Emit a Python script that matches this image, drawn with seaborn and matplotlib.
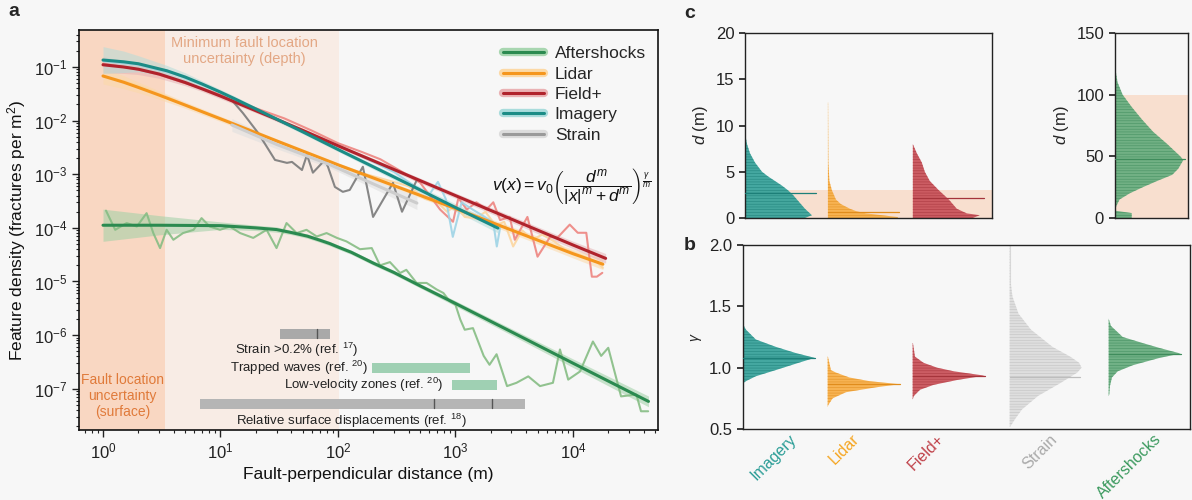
import numpy as np
import matplotlib
matplotlib.use('Agg')
import matplotlib.pyplot as plt
from matplotlib.ticker import LogLocator, NullFormatter, FixedLocator
from matplotlib.lines import Line2D
from matplotlib.patches import Rectangle
from matplotlib.transforms import blended_transform_factory
import seaborn as sns

sns.set_theme(style='ticks')
plt.rcParams['font.family'] = ['Liberation Sans', 'DejaVu Sans']
plt.rcParams['mathtext.fontset'] = 'custom'
plt.rcParams['mathtext.rm'] = 'Liberation Sans'
plt.rcParams['mathtext.it'] = 'Liberation Sans:italic'
plt.rcParams['hatch.linewidth'] = 0.35

# ---------------- panel a: fitted curves ----------------
aft_fit_x = [1, 3, 10, 20, 30, 40, 55, 70, 85, 100, 130, 160, 200, 300, 500, 1000, 3000, 1e4, 4.4e4]
aft_fit_y = [1.12e-4, 1.12e-4, 1.1e-4, 1.0e-4, 9.3e-5, 8.2e-5, 7.0e-5, 5.9e-5, 5.1e-5, 4.4e-5,
             3.5e-5, 2.8e-5, 2.2e-5, 1.47e-5, 8.3e-6, 3.9e-6, 1.15e-6, 3.0e-7, 5.8e-8]
aft_band = [0.3, 0.18, 0.07, 0.05, 0.05, 0.04, 0.04, 0.04, 0.04, 0.04, 0.04, 0.04, 0.04, 0.04,
            0.04, 0.05, 0.06, 0.08, 0.1]

lid_fit_x = [1, 1.5, 2, 3, 5, 10, 30, 100, 1000, 1e4, 1.8e4]
lid_fit_y = [0.068, 0.052, 0.0416, 0.030, 0.0195, 0.0108, 4.2e-3, 1.5e-3, 2.3e-4, 3.3e-5, 2.1e-5]
lid_band = [0.15, 0.12, 0.1, 0.08, 0.06, 0.05, 0.04, 0.04, 0.05, 0.08, 0.1]

fld_fit_x = [1, 1.5, 2, 3, 5, 7, 10, 20, 30, 50, 100, 1000, 1e4, 1.9e4]
fld_fit_y = [0.11, 0.1, 0.091, 0.074, 0.0515, 0.039, 0.0287, 0.0153, 0.0106, 6.6e-3, 3.4e-3,
             4.0e-4, 4.8e-5, 2.7e-5]
fld_band = [0.15, 0.12, 0.1, 0.08, 0.06, 0.05, 0.05, 0.04, 0.04, 0.04, 0.04, 0.05, 0.07, 0.09]

img_fit_x = [1, 1.5, 2, 3.5, 5, 7, 10, 13, 20, 30, 50, 100, 300, 1000, 2300]
img_fit_y = [0.135, 0.125, 0.115, 0.085, 0.065, 0.048, 0.034, 0.026, 0.0165, 0.0107, 6.2e-3,
             2.9e-3, 8.9e-4, 2.4e-4, 9.9e-5]
img_band = [0.25, 0.2, 0.15, 0.1, 0.08, 0.06, 0.05, 0.05, 0.04, 0.04, 0.04, 0.04, 0.05, 0.07, 0.09]

str_fit_x = [12.5, 30, 86, 200, 470]
str_fit_y = [8.3e-3, 3.6e-3, 1.5e-3, 6.6e-4, 2.9e-4]
str_band = [0.12, 0.08, 0.06, 0.08, 0.12]

# ---------------- panel a: binned densities ----------------
aft_raw_x = [1.06, 1.27, 1.59, 1.94, 2.35, 2.68, 3.06, 3.48, 3.97, 4.8, 5.9, 6.9, 8.1, 9.9, 12,
             14.7, 19, 24.7, 30, 36.5, 44.5, 54, 66, 80, 98, 118, 154, 194, 228, 277, 338, 382,
             467, 568, 692, 790, 893, 1000, 1100, 1200, 1410, 1740, 1950, 2240, 2750, 3310, 4170,
             5250, 6760, 7760, 9120, 1.15e4, 1.48e4, 1.74e4, 2.0e4, 2.57e4, 3.47e4, 3.8e4, 4.37e4]
aft_raw_y = [2.1e-4, 9.2e-5, 1.23e-4, 1.06e-4, 1.88e-4, 8e-5, 4.2e-5, 9.2e-5, 6.0e-5, 8e-5, 9.2e-5,
             1.52e-4, 1.06e-4, 9.2e-5, 1.06e-4, 8e-5, 6.5e-5, 9.2e-5, 4.2e-5, 1.23e-4, 8e-5, 9.2e-5,
             6.9e-5, 8e-5, 6.5e-5, 5.6e-5, 4.0e-5, 4.2e-5, 2.0e-5, 2.3e-5, 1.44e-5, 1.65e-5, 9.4e-6,
             9.4e-6, 7.1e-6, 6.1e-6, 4.3e-6, 3.7e-6, 1.95e-6, 1.26e-6, 1.35e-6, 4.1e-7, 2.8e-7,
             4.4e-7, 1.12e-7, 1.29e-7, 1.7e-7, 1.12e-7, 1.29e-7, 5.4e-7, 1.48e-7, 2.1e-7, 7.6e-7,
             4.1e-7, 5.8e-7, 7.2e-8, 7.8e-8, 3.8e-8, 3.8e-8]

lid_raw_x = [1, 1.5, 2, 3, 5, 8, 12, 20, 35, 60, 100, 160, 250, 400, 550, 700, 850, 1000, 1200,
             1500, 1800, 2200, 2600, 3100, 3700, 4500, 5500, 7000, 8500, 1e4, 1.3e4, 1.6e4, 1.8e4]
lid_raw_y = [0.068, 0.055, 0.045, 0.032, 0.02, 0.013, 0.0095, 6e-3, 3.6e-3, 2.3e-3, 1.5e-3,
             1.05e-3, 8e-4, 6e-4, 3.5e-4, 3.0e-4, 2.0e-4, 2.6e-4, 1.6e-4, 1.5e-4, 2.0e-4, 1.1e-4,
             1.3e-4, 4.5e-5, 9e-5, 6e-5, 7.5e-5, 5.5e-5, 4e-5, 3.5e-5, 2.8e-5, 2.3e-5, 1.8e-5]

fld_raw_x = [1, 1.5, 2, 3, 5, 8, 12, 20, 35, 60, 100, 160, 230, 330, 500, 740, 954, 1060, 1250,
             1510, 1840, 2100, 2400, 2900, 3200, 4100, 5000, 6400, 7400, 9400, 1.1e4, 1.3e4,
             1.45e4, 1.6e4, 1.78e4]
fld_raw_y = [0.115, 0.1, 0.09, 0.072, 0.05, 0.036, 0.026, 0.017, 0.011, 6.5e-3, 3.8e-3, 2.6e-3,
             1.9e-3, 1.2e-3, 7e-4, 2.2e-4, 1.3e-4, 3.6e-4, 2.2e-4, 3e-4, 2.2e-4, 3e-4, 1.4e-4,
             1.6e-4, 6e-5, 1.6e-4, 2.9e-5, 6.8e-5, 6.6e-5, 1.15e-4, 8.1e-5, 8.1e-5, 1.23e-5,
             1.23e-5, 1.45e-5]

img_raw_x = [1, 2, 4, 8, 15, 30, 60, 100, 150, 200, 300, 450, 600, 710, 830, 950, 1130, 1400,
             1700, 2100, 2250, 2400]
img_raw_y = [0.13, 0.11, 0.075, 0.042, 0.022, 0.0105, 5.2e-3, 3.4e-3, 2.3e-3, 1.7e-3, 1.1e-3,
             6e-4, 4.2e-4, 7.2e-4, 3.4e-4, 6.8e-5, 3.0e-4, 2.2e-4, 1.7e-4, 1.26e-4, 4.5e-5, 1.0e-4]

str_raw_x = [12.5, 15.5, 20.9, 24.9, 29.1, 36.8, 40.6, 49.4, 54.5, 61.2, 77.5, 82.2, 94.2, 110,
             126, 163, 199, 294, 351, 470]
str_raw_y = [2.4e-2, 1.39e-2, 5.9e-3, 3.2e-3, 1.85e-3, 1.63e-3, 1.7e-3, 1.2e-3, 2.3e-3, 1.07e-3,
             1.85e-3, 1.38e-3, 5.8e-4, 4.7e-4, 5.1e-4, 1.38e-3, 1.6e-4, 6.9e-4, 2.0e-4, 7.9e-4]

# reference ranges (m) drawn under the curves
strain_range = [32, 86]
strain_mark = [66]
trapped_range = [195, 1330]
lvz_range = [930, 2250]
rsd_range = [6.7, 3900]
rsd_marks = [660, 2040]

# ---------------- panel b: gamma posteriors ----------------
gamma_names = ['Imagery', 'Lidar', 'Field+', 'Strain', 'Aftershocks']
gamma_median = [1.08, 0.865, 0.93, 0.925, 1.11]
img_g = [1.36, 1.31, 1.23, 1.17, 1.12, 1.08, 1.04, 0.98, 0.93, 0.89, 0.87]
img_gw = [0, 10, 40, 100, 160, 218, 170, 100, 40, 10, 0]
lid_g = [1.09, 0.98, 0.96, 0.92, 0.89, 0.865, 0.84, 0.80, 0.75, 0.70, 0.68]
lid_gw = [1, 10, 25, 65, 125, 215, 145, 55, 15, 3, 0]
fld_g = [1.20, 1.09, 1.04, 1.00, 0.97, 0.935, 0.90, 0.86, 0.82, 0.77, 0.74]
fld_gw = [1, 7, 32, 72, 122, 212, 132, 62, 22, 4, 0]
str_g = [2.0, 1.72, 1.58, 1.44, 1.31, 1.17, 1.09, 1.04, 1.0, 0.96, 0.87, 0.77, 0.66, 0.58, 0.52]
str_gw = [1, 2, 8, 25, 60, 120, 170, 195, 202, 190, 140, 80, 35, 15, 2]
aft_g = [1.40, 1.34, 1.25, 1.20, 1.16, 1.115, 1.08, 1.02, 0.97, 0.92, 0.85, 0.78, 0.77]
aft_gw = [0, 7, 42, 102, 152, 214, 152, 72, 27, 10, 4, 2, 0]

# ---------------- panel c: d posteriors ----------------
d_median = [2.7, 0.65, 2.2]
img_d = [0, 0.3, 0.6, 1, 1.5, 2, 2.5, 3, 3.5, 4, 4.5, 5, 6, 7, 8, 9.2]
img_dw = [60, 67, 64, 60, 56, 52, 48, 43, 37, 30, 23, 17, 10, 5, 2, 0]
lid_d = [0, 0.1, 0.2, 0.35, 0.5, 0.75, 1, 1.5, 2, 3, 4, 6, 8, 10, 12.5]
lid_dw = [70, 70, 62, 50, 38, 28, 22, 13, 8, 4, 1.5, 0.5, 0.4, 0.3, 0.2]
fld_d = [0, 0.3, 0.5, 1, 1.5, 2, 3, 4, 5, 6, 7, 8]
fld_dw = [60, 67, 54, 44, 40, 36, 26, 17, 12, 9, 4, 0]
aft_d_median = 48
aft_d = [0, 2, 4, 6, 10, 15, 20, 25, 30, 35, 40, 47, 50, 60, 70, 80, 90, 100, 110, 120, 130]
aft_dw = [17, 17, 17, 0, 2, 5, 15, 28, 42, 57, 63, 68, 65, 52, 38, 27, 17, 8, 3, 1, 0]

BG = '#f7f7f7'
C_AFT, C_LID, C_FLD, C_IMG = '#2b8a50', '#f5961d', '#b0232c', '#1b8c86'
R_AFT, R_LID, R_FLD, R_IMG, R_STR = '#86bd84', '#fcd6a0', '#ee8580', '#9fd4e6', '#7a7a7a'
V_COL = ['#3aa39b', '#f7b04a', '#c9545b', '#dddddd', '#6aae80']
V_DARK = ['#1d7f78', '#e08c1c', '#a5343b', '#bdbdbd', '#3f8c5c']
LBL_COL = ['#2a9d96', '#f5a623', '#c0424a', '#aaaaaa', '#3c9a5f']

fig = plt.figure(figsize=(11.92, 5.0), dpi=100, facecolor=BG)
ax = fig.add_axes([0.0663, 0.14, 0.4857, 0.80], facecolor=BG)
ax.set_xscale('log')
ax.set_yscale('log')
ax.set_xlim(0.625, 5.3e4)
ax.set_ylim(1.7e-8, 0.49)

ax.axvspan(0.1, 3.4, color='#f9d7c2', lw=0, zorder=0)
ax.axvspan(3.4, 103, color='#f8ece5', lw=0, zorder=0)

series = [
    (aft_fit_x, aft_fit_y, aft_band, aft_raw_x, aft_raw_y, C_AFT, R_AFT, '#9fd0a6'),
    (lid_fit_x, lid_fit_y, lid_band, lid_raw_x, lid_raw_y, C_LID, R_LID, '#fbd9a8'),
    (fld_fit_x, fld_fit_y, fld_band, fld_raw_x, fld_raw_y, C_FLD, R_FLD, '#e6b4b6'),
    (img_fit_x, img_fit_y, img_band, img_raw_x, img_raw_y, C_IMG, R_IMG, '#b5dcd9'),
    (str_fit_x, str_fit_y, str_band, str_raw_x, str_raw_y, '#cdcdcd', R_STR, '#dedede'),
]
for fx, fy, band, rx, ry, c, rc, bc in series:
    fx, fy, band = np.array(fx), np.array(fy), np.array(band)
    ax.fill_between(fx, fy / 10 ** band, fy * 10 ** band, color=bc, alpha=0.55, lw=0, zorder=1)
for fx, fy, band, rx, ry, c, rc, bc in series:
    sns.lineplot(x=rx, y=ry, ax=ax, color=rc, linewidth=1.5, alpha=0.9, sort=False, zorder=2)
for fx, fy, band, rx, ry, c, rc, bc in series:
    sns.lineplot(x=fx, y=fy, ax=ax, color=c, linewidth=2.2, sort=False, zorder=3)

# reference range bars
tr = blended_transform_factory(ax.transData, ax.transAxes)
bars = [(strain_range, 0.2275, '#a9a9a9'), (trapped_range, 0.1425, '#9fd0b3'),
        (lvz_range, 0.10, '#9fd0b3'), (rsd_range, 0.0525, '#b5b5b5')]
for (x0, x1), y0, col in bars:
    ax.add_patch(Rectangle((x0, y0), x1 - x0, 0.026, transform=tr, color=col, lw=0, zorder=4))
for xm in strain_mark:
    ax.plot([xm, xm], [0.2295, 0.2515], transform=tr, color='#555555', lw=1, zorder=5)
for xm in rsd_marks:
    ax.plot([xm, xm], [0.0545, 0.0765], transform=tr, color='#555555', lw=1, zorder=5)

fs_small = 9.5
ax.text(45, 0.201, r'Strain >0.2% (ref. $^{17}$)', transform=tr, ha='center', va='center',
        fontsize=fs_small, color='#222222')
ax.text(180, 0.155, r'Trapped waves (ref. $^{20}$)', transform=tr, ha='right', va='center',
        fontsize=fs_small, color='#222222')
ax.text(795, 0.1125, r'Low-velocity zones (ref. $^{20}$)', transform=tr, ha='right',
        va='center', fontsize=fs_small, color='#222222')
ax.text(129, 0.022, r'Relative surface displacements (ref. $^{18}$)', transform=tr,
        ha='center', va='center', fontsize=fs_small, color='#222222')
ax.text(16, 0.985, 'Minimum fault location\nuncertainty (depth)', transform=tr, ha='center',
        va='top', fontsize=10.5, color='#e3a784', linespacing=1.15)
ax.text(1.47, 0.085, 'Fault location\nuncertainty\n(surface)', transform=tr, ha='center',
        va='center', fontsize=10, color='#e07a3a', linespacing=1.2)

ax.text(0.99, 0.61, r'$v(x) = v_0\left(\dfrac{d^m}{|x|^m + d^m}\right)^{\frac{\gamma}{m}}$',
        transform=ax.transAxes, ha='right', va='center', fontsize=12.5, color='#111111')

handles = []
for name, c, bc in [('Aftershocks', C_AFT, '#a8d6b0'), ('Lidar', C_LID, '#fcd9a6'),
                    ('Field+', C_FLD, '#eab2b4'), ('Imagery', C_IMG, '#a9dcdc'),
                    ('Strain', '#9a9a9a', '#dcdcdc')]:
    handles.append(((Line2D([], [], color=bc, lw=6), Line2D([], [], color=c, lw=2.2)), name))
ax.legend([h for h, _ in handles], [n for _, n in handles], loc='upper right',
          bbox_to_anchor=(1.0, 0.99), frameon=False, fontsize=12.5, handlelength=2.4,
          labelspacing=0.3, handletextpad=0.6, borderaxespad=0.3)

ax.xaxis.set_major_locator(LogLocator(base=10, numticks=20))
ax.xaxis.set_minor_locator(LogLocator(base=10, subs=np.arange(2, 10), numticks=100))
ax.yaxis.set_major_locator(FixedLocator([1e-7, 1e-6, 1e-5, 1e-4, 1e-3, 1e-2, 1e-1]))
ax.yaxis.set_minor_locator(LogLocator(base=10, subs=np.arange(2, 10), numticks=100))
ax.xaxis.set_minor_formatter(NullFormatter())
ax.yaxis.set_minor_formatter(NullFormatter())
ax.tick_params(which='major', direction='out', length=5, width=1, labelsize=12, colors='#222222')
ax.tick_params(which='minor', direction='out', length=2.5, width=0.8, colors='#222222')
ax.set_xlabel('Fault-perpendicular distance (m)', fontsize=12.5, color='#111111')
ax.set_ylabel('Feature density (fractures per m$^2$)', fontsize=12.5, color='#111111')
for s in ax.spines.values():
    s.set_color('#111111')
    s.set_linewidth(1.2)


def half_violin(axh, ys, ws, base, scale, face, dark, median=None, mlen=None):
    ws = np.array(ws, dtype=float) * scale
    axh.fill_betweenx(ys, base, base + ws, facecolor=face, edgecolor=dark, linewidth=0,
                      hatch='------', alpha=0.95, zorder=2)
    if median is not None:
        axh.plot([base, base + mlen], [median, median], color=dark, lw=0.9, zorder=3)


# ---------------- panel b ----------------
axb = fig.add_axes([0.623, 0.142, 0.375, 0.368], facecolor=BG)
axb.set_xlim(0, 447)
axb.set_ylim(0.5, 2.0)
b_base = [0, 85, 170, 267, 366]
b_tick = [57, 119, 204, 317, 422]
g_profiles = [(img_g, img_gw), (lid_g, lid_gw), (fld_g, fld_gw), (str_g, str_gw), (aft_g, aft_gw)]
for i, (ys, ws) in enumerate(g_profiles):
    half_violin(axb, ys, ws, b_base[i], 72.0 / max(ws), V_COL[i], V_DARK[i],
                gamma_median[i], 72 if i != 3 else 70)
axb.plot([b_base[3], b_base[3]], [1.6, 2.0], color='#d8d8d8', lw=0.8, zorder=1)
axb.set_yticks([0.5, 1.0, 1.5, 2.0])
axb.set_yticklabels(['0.5', '1.0', '1.5', '2.0'])
axb.set_xticks(b_tick)
axb.set_xticklabels(gamma_names, rotation=45, ha='right', fontsize=11.5)
for lbl, c in zip(axb.get_xticklabels(), LBL_COL):
    lbl.set_color(c)
axb.tick_params(axis='x', length=0, pad=2)
axb.tick_params(axis='y', length=4, labelsize=12, colors='#222222')
axb.set_ylabel(r'$\gamma$', fontsize=10, labelpad=4)

# ---------------- panel c ----------------
axc = fig.add_axes([0.625, 0.564, 0.207, 0.37], facecolor=BG)
axc.set_xlim(0, 247)
axc.set_ylim(0, 20)
axc.axhspan(0, 3, color='#f8dfcf', lw=0, zorder=1)
c_base = [0, 83, 168]
d_profiles = [(img_d, img_dw), (lid_d, lid_dw), (fld_d, fld_dw)]
for i, (ys, ws) in enumerate(d_profiles):
    half_violin(axc, ys, ws, c_base[i], 1.0, V_COL[i], V_DARK[i], d_median[i], 71)
axc.set_xticks([])
axc.set_yticks([0, 5, 10, 15, 20])
axc.tick_params(axis='y', length=4, labelsize=12, colors='#222222')
axc.set_ylabel(r'$d$ (m)', fontsize=12)

axc2 = fig.add_axes([0.935, 0.564, 0.062, 0.37], facecolor=BG)
axc2.set_xlim(0, 73)
axc2.set_ylim(0, 150)
axc2.axhspan(0, 100, color='#f8dfcf', lw=0, zorder=1)
half_violin(axc2, aft_d, aft_dw, 0, 1.0, V_COL[4], V_DARK[4], aft_d_median, 70)
axc2.set_xticks([])
axc2.set_yticks([0, 50, 100, 150])
axc2.tick_params(axis='y', length=4, labelsize=12, colors='#222222')
axc2.set_ylabel(r'$d$ (m)', fontsize=12)

for a in (axb, axc, axc2):
    for s in a.spines.values():
        s.set_color('#222222')
        s.set_linewidth(1.0)

fig.text(8 / 1192, 1 - 12 / 500, 'a', fontsize=14, fontweight='bold', va='center')
fig.text(684 / 1192, 1 - 14 / 500, 'c', fontsize=14, fontweight='bold', va='center')
fig.text(684 / 1192, 1 - 245 / 500, 'b', fontsize=14, fontweight='bold', va='center')

fig.savefig('out.png', dpi=100, facecolor=BG)
